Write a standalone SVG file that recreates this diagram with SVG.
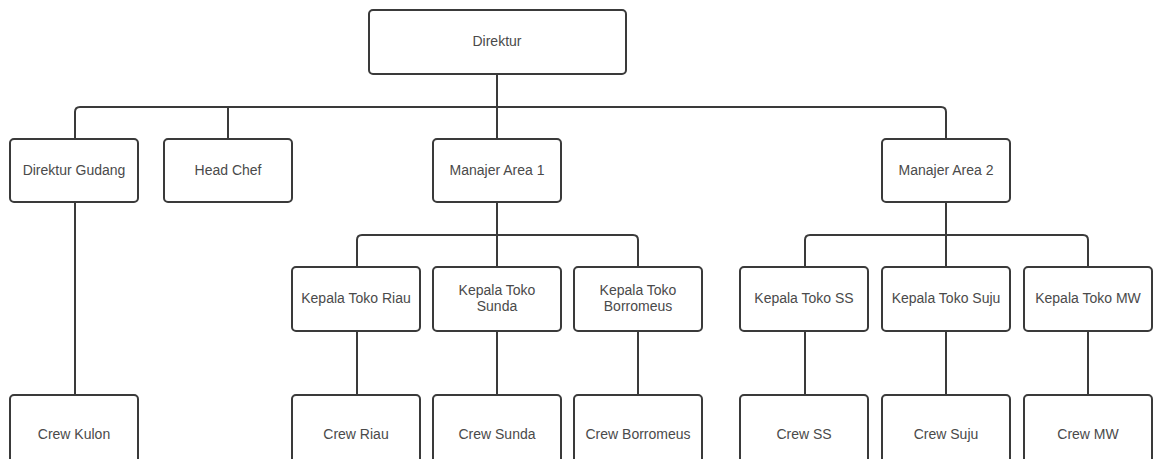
<svg xmlns="http://www.w3.org/2000/svg" width="1157" height="459" viewBox="0 0 1157 459">
<style>
.box{fill:#fff;stroke:#3a3a3a;stroke-width:2}
.lbl{font-family:"Liberation Sans",Arial,sans-serif;font-size:14px;fill:#4a4a4a;text-anchor:middle}
.con{fill:none;stroke:#3a3a3a;stroke-width:2}
</style>
<rect width="1157" height="459" fill="#fff"/>
<g id="connectors">
<path class="con" d="M497,74 V107"/>
<path class="con" d="M75,139 V112 Q75,107 80,107 H941 Q946,107 946,112 V139"/>
<path class="con" d="M228,107 V139"/>
<path class="con" d="M497,107 V139"/>
<path class="con" d="M75,202 V395"/>
<path class="con" d="M497,202 V267"/>
<path class="con" d="M357,267 V240 Q357,235 362,235 H633 Q638,235 638,240 V267"/>
<path class="con" d="M946,202 V267"/>
<path class="con" d="M805,267 V240 Q805,235 810,235 H1083 Q1088,235 1088,240 V267"/>
<path class="con" d="M357,331 V395"/>
<path class="con" d="M497,331 V395"/>
<path class="con" d="M638,331 V395"/>
<path class="con" d="M805,331 V395"/>
<path class="con" d="M946,331 V395"/>
<path class="con" d="M1088,331 V395"/>
</g>
<g id="direktur"><rect class="box" x="369" y="10" width="257" height="64" rx="4"/><text class="lbl" x="497" y="46">Direktur</text></g>
<g id="direktur-gudang"><rect class="box" x="10" y="139" width="128" height="63" rx="4"/><text class="lbl" x="74" y="175">Direktur Gudang</text></g>
<g id="head-chef"><rect class="box" x="164" y="139" width="128" height="63" rx="4"/><text class="lbl" x="228" y="175">Head Chef</text></g>
<g id="manajer-area-1"><rect class="box" x="433" y="139" width="128" height="63" rx="4"/><text class="lbl" x="497" y="175">Manajer Area 1</text></g>
<g id="manajer-area-2"><rect class="box" x="882" y="139" width="128" height="63" rx="4"/><text class="lbl" x="946" y="175">Manajer Area 2</text></g>
<g id="kepala-riau"><rect class="box" x="292" y="267" width="128" height="64" rx="4"/><text class="lbl" x="356" y="303">Kepala Toko Riau</text></g>
<g id="kepala-sunda"><rect class="box" x="433" y="267" width="128" height="64" rx="4"/><text class="lbl" x="497" y="295">Kepala Toko</text><text class="lbl" x="497" y="311">Sunda</text></g>
<g id="kepala-borromeus"><rect class="box" x="574" y="267" width="128" height="64" rx="4"/><text class="lbl" x="638" y="295">Kepala Toko</text><text class="lbl" x="638" y="311">Borromeus</text></g>
<g id="kepala-ss"><rect class="box" x="740" y="267" width="128" height="64" rx="4"/><text class="lbl" x="804" y="303">Kepala Toko SS</text></g>
<g id="kepala-suju"><rect class="box" x="882" y="267" width="128" height="64" rx="4"/><text class="lbl" x="946" y="303">Kepala Toko Suju</text></g>
<g id="kepala-mw"><rect class="box" x="1024" y="267" width="128" height="64" rx="4"/><text class="lbl" x="1088" y="303">Kepala Toko MW</text></g>
<g id="crew-kulon"><rect class="box" x="10" y="395" width="128" height="80" rx="4"/><text class="lbl" x="74" y="439">Crew Kulon</text></g>
<g id="crew-riau"><rect class="box" x="292" y="395" width="128" height="80" rx="4"/><text class="lbl" x="356" y="439">Crew Riau</text></g>
<g id="crew-sunda"><rect class="box" x="433" y="395" width="128" height="80" rx="4"/><text class="lbl" x="497" y="439">Crew Sunda</text></g>
<g id="crew-borromeus"><rect class="box" x="574" y="395" width="128" height="80" rx="4"/><text class="lbl" x="638" y="439">Crew Borromeus</text></g>
<g id="crew-ss"><rect class="box" x="740" y="395" width="128" height="80" rx="4"/><text class="lbl" x="804" y="439">Crew SS</text></g>
<g id="crew-suju"><rect class="box" x="882" y="395" width="128" height="80" rx="4"/><text class="lbl" x="946" y="439">Crew Suju</text></g>
<g id="crew-mw"><rect class="box" x="1024" y="395" width="128" height="80" rx="4"/><text class="lbl" x="1088" y="439">Crew MW</text></g>
</svg>
